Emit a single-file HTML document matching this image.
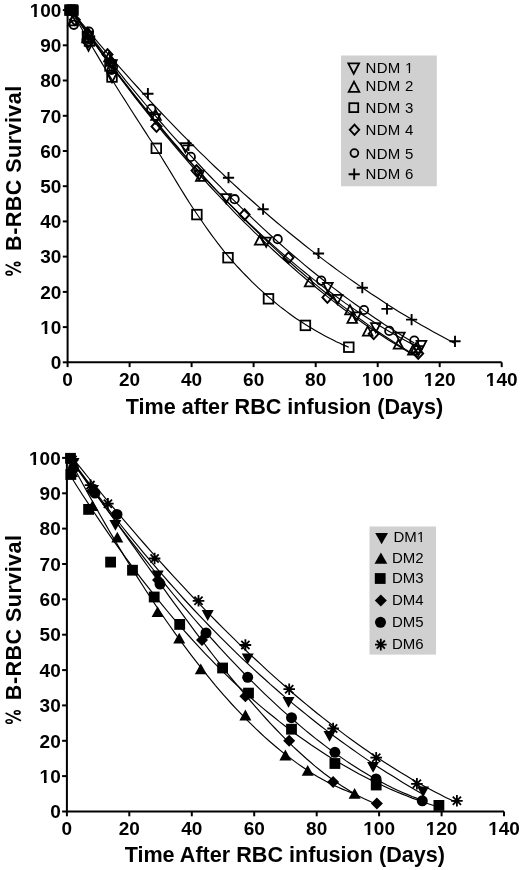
<!DOCTYPE html>
<html><head><meta charset="utf-8"><style>html,body{margin:0;padding:0;background:#fff;}svg{display:block;filter:grayscale(1);}text{font-family:"Liberation Sans",sans-serif;}</style></head>
<body>
<svg width="520" height="870" viewBox="0 0 520 870">
<rect width="520" height="870" fill="#fff"/>
<path d="M67.6,10.1V362.3H501.7" fill="none" stroke="#000" stroke-width="2"/>
<path d="M62.8,362.3H67.6" stroke="#000" stroke-width="2"/>
<text x="50.83" y="369.05" font-size="19.0" font-weight="bold" font-family="'Liberation Sans', sans-serif">0</text>
<path d="M62.8,327.1H67.6" stroke="#000" stroke-width="2"/>
<clipPath id="c1"><path clip-rule="evenodd" d="M-10,-10H530V880H-10ZM40.66,331.29H44.70V335.83H40.66ZM47.31,331.29H51.10V335.83H47.31Z"/></clipPath><g clip-path="url(#c1)"><text x="40.27" y="333.83" font-size="19.0" font-weight="bold" font-family="'Liberation Sans', sans-serif">10</text></g>
<path d="M62.8,291.9H67.6" stroke="#000" stroke-width="2"/>
<text x="40.27" y="298.61" font-size="19.0" font-weight="bold" font-family="'Liberation Sans', sans-serif">20</text>
<path d="M62.8,256.6H67.6" stroke="#000" stroke-width="2"/>
<text x="40.27" y="263.39" font-size="19.0" font-weight="bold" font-family="'Liberation Sans', sans-serif">30</text>
<path d="M62.8,221.4H67.6" stroke="#000" stroke-width="2"/>
<text x="40.27" y="228.17" font-size="19.0" font-weight="bold" font-family="'Liberation Sans', sans-serif">40</text>
<path d="M62.8,186.2H67.6" stroke="#000" stroke-width="2"/>
<text x="40.27" y="192.95" font-size="19.0" font-weight="bold" font-family="'Liberation Sans', sans-serif">50</text>
<path d="M62.8,151.0H67.6" stroke="#000" stroke-width="2"/>
<text x="40.27" y="157.73" font-size="19.0" font-weight="bold" font-family="'Liberation Sans', sans-serif">60</text>
<path d="M62.8,115.8H67.6" stroke="#000" stroke-width="2"/>
<text x="40.27" y="122.51" font-size="19.0" font-weight="bold" font-family="'Liberation Sans', sans-serif">70</text>
<path d="M62.8,80.5H67.6" stroke="#000" stroke-width="2"/>
<text x="40.27" y="87.29" font-size="19.0" font-weight="bold" font-family="'Liberation Sans', sans-serif">80</text>
<path d="M62.8,45.3H67.6" stroke="#000" stroke-width="2"/>
<text x="40.27" y="52.07" font-size="19.0" font-weight="bold" font-family="'Liberation Sans', sans-serif">90</text>
<path d="M62.8,10.1H67.6" stroke="#000" stroke-width="2"/>
<clipPath id="c2"><path clip-rule="evenodd" d="M-10,-10H530V880H-10ZM30.10,14.31H34.13V18.85H30.10ZM36.74,14.31H40.54V18.85H36.74Z"/></clipPath><g clip-path="url(#c2)"><text x="29.70" y="16.85" font-size="19.0" font-weight="bold" font-family="'Liberation Sans', sans-serif">100</text></g>
<path d="M67.6,362.3V367.1" stroke="#000" stroke-width="2"/>
<text x="62.32" y="385.60" font-size="19.0" font-weight="bold" font-family="'Liberation Sans', sans-serif">0</text>
<path d="M129.6,362.3V367.1" stroke="#000" stroke-width="2"/>
<text x="119.05" y="385.60" font-size="19.0" font-weight="bold" font-family="'Liberation Sans', sans-serif">20</text>
<path d="M191.6,362.3V367.1" stroke="#000" stroke-width="2"/>
<text x="181.06" y="385.60" font-size="19.0" font-weight="bold" font-family="'Liberation Sans', sans-serif">40</text>
<path d="M253.6,362.3V367.1" stroke="#000" stroke-width="2"/>
<text x="243.08" y="385.60" font-size="19.0" font-weight="bold" font-family="'Liberation Sans', sans-serif">60</text>
<path d="M315.7,362.3V367.1" stroke="#000" stroke-width="2"/>
<text x="305.09" y="385.60" font-size="19.0" font-weight="bold" font-family="'Liberation Sans', sans-serif">80</text>
<path d="M377.7,362.3V367.1" stroke="#000" stroke-width="2"/>
<clipPath id="c3"><path clip-rule="evenodd" d="M-10,-10H530V880H-10ZM362.22,383.06H366.26V387.60H362.22ZM368.86,383.06H372.66V387.60H368.86Z"/></clipPath><g clip-path="url(#c3)"><text x="361.82" y="385.60" font-size="19.0" font-weight="bold" font-family="'Liberation Sans', sans-serif">100</text></g>
<path d="M439.7,362.3V367.1" stroke="#000" stroke-width="2"/>
<clipPath id="c4"><path clip-rule="evenodd" d="M-10,-10H530V880H-10ZM424.23,383.06H428.27V387.60H424.23ZM430.88,383.06H434.67V387.60H430.88Z"/></clipPath><g clip-path="url(#c4)"><text x="423.84" y="385.60" font-size="19.0" font-weight="bold" font-family="'Liberation Sans', sans-serif">120</text></g>
<path d="M501.7,362.3V367.1" stroke="#000" stroke-width="2"/>
<clipPath id="c5"><path clip-rule="evenodd" d="M-10,-10H530V880H-10ZM486.25,383.06H490.28V387.60H486.25ZM492.89,383.06H496.69V387.60H492.89Z"/></clipPath><g clip-path="url(#c5)"><text x="485.85" y="385.60" font-size="19.0" font-weight="bold" font-family="'Liberation Sans', sans-serif">140</text></g>
<path d="M71.0,10.5 L76.1,17.7 L81.2,24.9 L86.2,31.9 L91.3,39.0 L96.4,45.9 L101.5,52.8 L106.6,59.6 L111.6,66.4 L116.7,73.1 L121.8,79.7 L126.9,86.2 L132.0,92.7 L137.0,99.1 L142.1,105.5 L147.2,111.8 L152.3,118.0 L157.4,124.1 L162.4,130.2 L167.5,136.2 L172.6,142.1 L177.7,148.0 L182.8,153.8 L187.8,159.5 L192.9,165.1 L198.0,170.7 L203.1,176.3 L208.2,181.7 L213.2,187.1 L218.3,192.4 L223.4,197.7 L228.5,202.8 L233.6,207.9 L238.6,213.0 L243.7,218.0 L248.8,222.9 L253.9,227.7 L258.9,232.5 L264.0,237.2 L269.1,241.8 L274.2,246.4 L279.3,250.9 L284.3,255.3 L289.4,259.6 L294.5,263.9 L299.6,268.1 L304.7,272.3 L309.7,276.4 L314.8,280.4 L319.9,284.3 L325.0,288.2 L330.1,292.0 L335.1,295.8 L340.2,299.4 L345.3,303.1 L350.4,306.6 L355.5,310.1 L360.5,313.5 L365.6,316.8 L370.7,320.0 L375.8,323.2 L380.9,326.4 L385.9,329.4 L391.0,332.4 L396.1,335.3 L401.2,338.2 L406.3,341.0 L411.3,343.7 L416.4,346.3 L421.5,348.9" fill="none" stroke="#000" stroke-width="1.15"/>
<path d="M71.0,9.9 L76.0,17.0 L80.9,24.1 L85.9,31.1 L90.8,38.1 L95.8,45.0 L100.7,51.8 L105.7,58.6 L110.6,65.3 L115.6,71.9 L120.6,78.5 L125.5,85.0 L130.5,91.4 L135.4,97.8 L140.4,104.1 L145.3,110.4 L150.3,116.6 L155.2,122.7 L160.2,128.8 L165.1,134.8 L170.1,140.7 L175.1,146.6 L180.0,152.4 L185.0,158.2 L189.9,163.9 L194.9,169.5 L199.8,175.1 L204.8,180.6 L209.7,186.0 L214.7,191.4 L219.7,196.7 L224.6,201.9 L229.6,207.1 L234.5,212.3 L239.5,217.3 L244.4,222.3 L249.4,227.2 L254.3,232.1 L259.3,236.9 L264.2,241.7 L269.2,246.3 L274.2,251.0 L279.1,255.5 L284.1,260.0 L289.0,264.4 L294.0,268.8 L298.9,273.1 L303.9,277.3 L308.8,281.5 L313.8,285.6 L318.8,289.7 L323.7,293.6 L328.7,297.6 L333.6,301.4 L338.6,305.2 L343.5,309.0 L348.5,312.6 L353.4,316.2 L358.4,319.8 L363.3,323.2 L368.3,326.7 L373.3,330.0 L378.2,333.3 L383.2,336.5 L388.1,339.7 L393.1,342.8 L398.0,345.8 L403.0,348.8 L407.9,351.7 L412.9,354.6" fill="none" stroke="#000" stroke-width="1.15"/>
<path d="M71.0,10.0 L74.1,15.5 L77.2,21.0 L80.4,26.4 L83.5,31.8 L86.6,37.2 L89.7,42.5 L92.8,47.8 L96.0,53.1 L99.1,58.4 L102.2,63.6 L105.3,68.8 L108.5,73.9 L111.6,79.0 L114.7,84.0 L117.8,89.0 L120.9,94.0 L124.1,98.9 L127.2,103.8 L130.3,108.7 L133.4,113.5 L136.5,118.4 L139.7,123.2 L142.8,128.1 L145.9,132.9 L149.0,137.7 L152.2,142.5 L155.3,147.4 L158.4,152.3 L161.5,157.3 L164.6,162.4 L167.8,167.5 L170.9,172.6 L174.0,177.8 L177.1,182.9 L180.2,188.0 L183.4,193.1 L186.5,198.1 L189.6,203.0 L192.7,207.8 L195.9,212.5 L199.0,217.0 L202.1,221.5 L205.2,226.0 L208.3,230.4 L211.5,234.8 L214.6,239.0 L217.7,243.2 L220.8,247.2 L223.9,251.1 L227.1,254.9 L230.2,258.5 L233.3,262.1 L236.4,265.6 L239.6,269.0 L242.7,272.3 L245.8,275.5 L248.9,278.7 L252.0,281.8 L255.2,284.9 L258.3,287.8 L261.4,290.7 L264.5,293.5 L267.6,296.3 L270.8,298.9 L273.9,301.5 L277.0,304.1 L280.1,306.6 L283.3,309.0 L286.4,311.4 L289.5,313.7 L292.6,316.0 L295.7,318.2 L298.9,320.3 L302.0,322.3 L305.1,324.3 L308.2,326.2 L311.3,328.1 L314.5,330.0 L317.6,331.8 L320.7,333.5 L323.8,335.3 L327.0,336.9 L330.1,338.6 L333.2,340.1 L336.3,341.7 L339.4,343.1 L342.6,344.6 L345.7,345.9 L348.8,347.2" fill="none" stroke="#000" stroke-width="1.15"/>
<path d="M71.0,9.9 L76.0,17.0 L81.1,24.0 L86.1,31.0 L91.1,37.9 L96.2,44.7 L101.2,51.5 L106.2,58.2 L111.3,64.9 L116.3,71.5 L121.3,78.1 L126.4,84.5 L131.4,91.0 L136.4,97.3 L141.4,103.6 L146.5,109.9 L151.5,116.0 L156.5,122.2 L161.6,128.2 L166.6,134.2 L171.6,140.2 L176.7,146.0 L181.7,151.8 L186.7,157.6 L191.8,163.3 L196.8,168.9 L201.8,174.5 L206.9,180.0 L211.9,185.5 L216.9,190.9 L222.0,196.2 L227.0,201.5 L232.0,206.7 L237.1,211.8 L242.1,216.9 L247.1,222.0 L252.1,226.9 L257.2,231.8 L262.2,236.7 L267.2,241.5 L272.3,246.2 L277.3,250.9 L282.3,255.5 L287.4,260.0 L292.4,264.5 L297.4,269.0 L302.5,273.3 L307.5,277.6 L312.5,281.9 L317.6,286.1 L322.6,290.2 L327.6,294.3 L332.7,298.3 L337.7,302.2 L342.7,306.1 L347.8,309.9 L352.8,313.7 L357.8,317.4 L362.8,321.0 L367.9,324.6 L372.9,328.1 L377.9,331.6 L383.0,335.0 L388.0,338.3 L393.0,341.6 L398.1,344.8 L403.1,348.0 L408.1,351.1 L413.2,354.1 L418.2,357.1" fill="none" stroke="#000" stroke-width="1.15"/>
<path d="M71.0,10.1 L76.0,16.7 L81.0,23.4 L85.9,29.9 L90.9,36.5 L95.9,42.9 L100.9,49.3 L105.8,55.7 L110.8,62.0 L115.8,68.2 L120.8,74.4 L125.7,80.6 L130.7,86.6 L135.7,92.7 L140.7,98.6 L145.6,104.5 L150.6,110.4 L155.6,116.2 L160.6,122.0 L165.5,127.7 L170.5,133.3 L175.5,138.9 L180.5,144.4 L185.4,149.9 L190.4,155.3 L195.4,160.7 L200.4,166.0 L205.3,171.3 L210.3,176.5 L215.3,181.6 L220.3,186.7 L225.2,191.8 L230.2,196.8 L235.2,201.7 L240.2,206.6 L245.1,211.4 L250.1,216.2 L255.1,220.9 L260.1,225.6 L265.0,230.2 L270.0,234.7 L275.0,239.2 L280.0,243.7 L284.9,248.1 L289.9,252.4 L294.9,256.7 L299.9,260.9 L304.8,265.1 L309.8,269.2 L314.8,273.2 L319.8,277.2 L324.7,281.2 L329.7,285.1 L334.7,288.9 L339.7,292.7 L344.6,296.5 L349.6,300.1 L354.6,303.8 L359.6,307.3 L364.5,310.9 L369.5,314.3 L374.5,317.7 L379.5,321.1 L384.4,324.4 L389.4,327.6 L394.4,330.8 L399.4,333.9 L404.3,337.0 L409.3,340.0 L414.3,343.0" fill="none" stroke="#000" stroke-width="1.15"/>
<path d="M71.0,10.1 L76.6,16.9 L82.1,23.6 L87.7,30.2 L93.3,36.8 L98.8,43.4 L104.4,49.8 L110.0,56.2 L115.5,62.6 L121.1,68.9 L126.7,75.2 L132.2,81.4 L137.8,87.5 L143.3,93.6 L148.9,99.6 L154.5,105.6 L160.0,111.5 L165.6,117.3 L171.2,123.1 L176.7,128.9 L182.3,134.6 L187.9,140.2 L193.4,145.7 L199.0,151.3 L204.6,156.7 L210.1,162.1 L215.7,167.5 L221.3,172.7 L226.8,178.0 L232.4,183.1 L238.0,188.2 L243.5,193.3 L249.1,198.3 L254.7,203.3 L260.2,208.1 L265.8,213.0 L271.3,217.7 L276.9,222.5 L282.5,227.1 L288.0,231.7 L293.6,236.3 L299.2,240.8 L304.7,245.2 L310.3,249.6 L315.9,253.9 L321.4,258.1 L327.0,262.4 L332.6,266.5 L338.1,270.6 L343.7,274.6 L349.3,278.6 L354.8,282.5 L360.4,286.4 L366.0,290.2 L371.5,294.0 L377.1,297.6 L382.7,301.3 L388.2,304.9 L393.8,308.4 L399.3,311.9 L404.9,315.3 L410.5,318.6 L416.0,321.9 L421.6,325.2 L427.2,328.3 L432.7,331.5 L438.3,334.5 L443.9,337.6 L449.4,340.5 L455.0,343.4" fill="none" stroke="#000" stroke-width="1.15"/>
<rect x="64.5" y="5.3" width="14.2" height="10.4" fill="#000"/>
<rect x="65.2" y="5.2" width="9.6" height="9.6" fill="none" stroke="#000" stroke-width="1.8" stroke-linejoin="miter"/>
<rect x="67.7" y="5.2" width="9.6" height="9.6" fill="none" stroke="#000" stroke-width="1.8" stroke-linejoin="miter"/>
<path d="M66.7,6.6L76.3,6.6L71.5,15.8Z" fill="none" stroke="#000" stroke-width="1.8" stroke-linejoin="miter"/>
<path d="M65.4,10.0H76.6M71.0,4.4V15.6" fill="none" stroke="#000" stroke-width="1.9"/>
<circle cx="73.8" cy="24.8" r="4.2" fill="none" stroke="#000" stroke-width="1.8" stroke-linejoin="miter"/>
<path d="M74.8,14.4L79.8,19.8L74.8,25.2L69.8,19.8Z" fill="none" stroke="#000" stroke-width="1.9" stroke-linejoin="miter"/>
<path d="M68.0,25.4L77.6,25.4L72.8,16.2Z" fill="none" stroke="#000" stroke-width="1.8" stroke-linejoin="miter"/>
<circle cx="86.5" cy="40.0" r="4.2" fill="none" stroke="#000" stroke-width="1.8" stroke-linejoin="miter"/>
<path d="M88.0,36.6L93.0,42.0L88.0,47.4L83.0,42.0Z" fill="none" stroke="#000" stroke-width="1.9" stroke-linejoin="miter"/>
<rect x="84.7" y="36.2" width="9.6" height="9.6" fill="none" stroke="#000" stroke-width="1.8" stroke-linejoin="miter"/>
<path d="M84.2,38.9L93.8,38.9L89.0,29.7Z" fill="none" stroke="#000" stroke-width="1.8" stroke-linejoin="miter"/>
<path d="M82.9,37.0H94.1M88.5,31.4V42.6" fill="none" stroke="#000" stroke-width="1.9"/>
<path d="M111.0,56.6L116.0,62.0L111.0,67.4L106.0,62.0Z" fill="none" stroke="#000" stroke-width="1.9" stroke-linejoin="miter"/>
<path d="M107.2,60.1L116.8,60.1L112.0,69.3Z" fill="none" stroke="#000" stroke-width="1.8" stroke-linejoin="miter"/>
<circle cx="113.0" cy="67.0" r="4.2" fill="none" stroke="#000" stroke-width="1.8" stroke-linejoin="miter"/>
<rect x="105.2" y="61.2" width="9.6" height="9.6" fill="none" stroke="#000" stroke-width="1.8" stroke-linejoin="miter"/>
<path d="M105.7,65.9L115.3,65.9L110.5,56.7Z" fill="none" stroke="#000" stroke-width="1.8" stroke-linejoin="miter"/>
<path d="M411.2,352.4L420.8,352.4L416.0,343.2Z" fill="none" stroke="#000" stroke-width="1.8" stroke-linejoin="miter"/>
<path d="M413.7,346.1L423.3,346.1L418.5,355.3Z" fill="none" stroke="#000" stroke-width="1.8" stroke-linejoin="miter"/>
<path d="M83.7,41.6L93.3,41.6L88.5,50.8Z" fill="none" stroke="#000" stroke-width="1.8" stroke-linejoin="miter"/>
<path d="M107.2,73.1L116.8,73.1L112.0,82.3Z" fill="none" stroke="#000" stroke-width="1.8" stroke-linejoin="miter"/>
<path d="M150.7,114.1L160.3,114.1L155.5,123.3Z" fill="none" stroke="#000" stroke-width="1.8" stroke-linejoin="miter"/>
<path d="M180.6,143.1L190.2,143.1L185.4,152.3Z" fill="none" stroke="#000" stroke-width="1.8" stroke-linejoin="miter"/>
<path d="M194.4,170.7L204.0,170.7L199.2,179.9Z" fill="none" stroke="#000" stroke-width="1.8" stroke-linejoin="miter"/>
<path d="M221.4,194.1L231.0,194.1L226.2,203.3Z" fill="none" stroke="#000" stroke-width="1.8" stroke-linejoin="miter"/>
<path d="M261.4,237.6L271.0,237.6L266.2,246.8Z" fill="none" stroke="#000" stroke-width="1.8" stroke-linejoin="miter"/>
<path d="M323.1,282.9L332.7,282.9L327.9,292.1Z" fill="none" stroke="#000" stroke-width="1.8" stroke-linejoin="miter"/>
<path d="M332.7,294.9L342.3,294.9L337.5,304.1Z" fill="none" stroke="#000" stroke-width="1.8" stroke-linejoin="miter"/>
<path d="M351.4,312.3L361.0,312.3L356.2,321.5Z" fill="none" stroke="#000" stroke-width="1.8" stroke-linejoin="miter"/>
<path d="M371.0,323.1L380.6,323.1L375.8,332.3Z" fill="none" stroke="#000" stroke-width="1.8" stroke-linejoin="miter"/>
<path d="M395.1,332.7L404.7,332.7L399.9,341.9Z" fill="none" stroke="#000" stroke-width="1.8" stroke-linejoin="miter"/>
<path d="M416.7,340.9L426.3,340.9L421.5,350.1Z" fill="none" stroke="#000" stroke-width="1.8" stroke-linejoin="miter"/>
<path d="M82.2,42.4L91.8,42.4L87.0,33.2Z" fill="none" stroke="#000" stroke-width="1.8" stroke-linejoin="miter"/>
<path d="M104.2,61.4L113.8,61.4L109.0,52.2Z" fill="none" stroke="#000" stroke-width="1.8" stroke-linejoin="miter"/>
<path d="M151.2,119.9L160.8,119.9L156.0,110.7Z" fill="none" stroke="#000" stroke-width="1.8" stroke-linejoin="miter"/>
<path d="M196.0,180.8L205.6,180.8L200.8,171.6Z" fill="none" stroke="#000" stroke-width="1.8" stroke-linejoin="miter"/>
<path d="M254.9,244.7L264.5,244.7L259.7,235.5Z" fill="none" stroke="#000" stroke-width="1.8" stroke-linejoin="miter"/>
<path d="M304.8,286.4L314.4,286.4L309.6,277.2Z" fill="none" stroke="#000" stroke-width="1.8" stroke-linejoin="miter"/>
<path d="M345.2,314.4L354.8,314.4L350.0,305.2Z" fill="none" stroke="#000" stroke-width="1.8" stroke-linejoin="miter"/>
<path d="M347.4,322.8L357.0,322.8L352.2,313.6Z" fill="none" stroke="#000" stroke-width="1.8" stroke-linejoin="miter"/>
<path d="M362.9,335.6L372.5,335.6L367.7,326.4Z" fill="none" stroke="#000" stroke-width="1.8" stroke-linejoin="miter"/>
<path d="M393.7,348.7L403.3,348.7L398.5,339.5Z" fill="none" stroke="#000" stroke-width="1.8" stroke-linejoin="miter"/>
<path d="M408.1,354.5L417.7,354.5L412.9,345.3Z" fill="none" stroke="#000" stroke-width="1.8" stroke-linejoin="miter"/>
<rect x="82.7" y="31.7" width="9.6" height="9.6" fill="none" stroke="#000" stroke-width="1.8" stroke-linejoin="miter"/>
<rect x="107.2" y="72.2" width="9.6" height="9.6" fill="none" stroke="#000" stroke-width="1.8" stroke-linejoin="miter"/>
<rect x="151.5" y="143.5" width="9.6" height="9.6" fill="none" stroke="#000" stroke-width="1.8" stroke-linejoin="miter"/>
<rect x="192.1" y="209.8" width="9.6" height="9.6" fill="none" stroke="#000" stroke-width="1.8" stroke-linejoin="miter"/>
<rect x="223.2" y="252.9" width="9.6" height="9.6" fill="none" stroke="#000" stroke-width="1.8" stroke-linejoin="miter"/>
<rect x="263.7" y="294.0" width="9.6" height="9.6" fill="none" stroke="#000" stroke-width="1.8" stroke-linejoin="miter"/>
<rect x="300.6" y="320.6" width="9.6" height="9.6" fill="none" stroke="#000" stroke-width="1.8" stroke-linejoin="miter"/>
<rect x="344.0" y="342.4" width="9.6" height="9.6" fill="none" stroke="#000" stroke-width="1.8" stroke-linejoin="miter"/>
<path d="M88.0,28.6L93.0,34.0L88.0,39.4L83.0,34.0Z" fill="none" stroke="#000" stroke-width="1.9" stroke-linejoin="miter"/>
<path d="M107.5,49.2L112.5,54.6L107.5,60.0L102.5,54.6Z" fill="none" stroke="#000" stroke-width="1.9" stroke-linejoin="miter"/>
<path d="M156.5,121.1L161.5,126.5L156.5,131.9L151.5,126.5Z" fill="none" stroke="#000" stroke-width="1.9" stroke-linejoin="miter"/>
<path d="M196.5,165.2L201.5,170.6L196.5,176.0L191.5,170.6Z" fill="none" stroke="#000" stroke-width="1.9" stroke-linejoin="miter"/>
<path d="M244.6,209.2L249.6,214.6L244.6,220.0L239.6,214.6Z" fill="none" stroke="#000" stroke-width="1.9" stroke-linejoin="miter"/>
<path d="M288.5,252.3L293.5,257.7L288.5,263.1L283.5,257.7Z" fill="none" stroke="#000" stroke-width="1.9" stroke-linejoin="miter"/>
<path d="M327.4,292.0L332.4,297.4L327.4,302.8L322.4,297.4Z" fill="none" stroke="#000" stroke-width="1.9" stroke-linejoin="miter"/>
<path d="M373.7,328.3L378.7,333.7L373.7,339.1L368.7,333.7Z" fill="none" stroke="#000" stroke-width="1.9" stroke-linejoin="miter"/>
<path d="M418.2,348.1L423.2,353.5L418.2,358.9L413.2,353.5Z" fill="none" stroke="#000" stroke-width="1.9" stroke-linejoin="miter"/>
<circle cx="89.0" cy="31.5" r="4.2" fill="none" stroke="#000" stroke-width="1.8" stroke-linejoin="miter"/>
<circle cx="111.5" cy="70.0" r="4.2" fill="none" stroke="#000" stroke-width="1.8" stroke-linejoin="miter"/>
<circle cx="151.2" cy="108.8" r="4.2" fill="none" stroke="#000" stroke-width="1.8" stroke-linejoin="miter"/>
<circle cx="190.8" cy="156.9" r="4.2" fill="none" stroke="#000" stroke-width="1.8" stroke-linejoin="miter"/>
<circle cx="234.6" cy="199.2" r="4.2" fill="none" stroke="#000" stroke-width="1.8" stroke-linejoin="miter"/>
<circle cx="277.7" cy="239.2" r="4.2" fill="none" stroke="#000" stroke-width="1.8" stroke-linejoin="miter"/>
<circle cx="321.2" cy="280.6" r="4.2" fill="none" stroke="#000" stroke-width="1.8" stroke-linejoin="miter"/>
<circle cx="364.0" cy="310.0" r="4.2" fill="none" stroke="#000" stroke-width="1.8" stroke-linejoin="miter"/>
<circle cx="389.3" cy="330.9" r="4.2" fill="none" stroke="#000" stroke-width="1.8" stroke-linejoin="miter"/>
<circle cx="414.3" cy="340.5" r="4.2" fill="none" stroke="#000" stroke-width="1.8" stroke-linejoin="miter"/>
<path d="M81.9,32.0H93.1M87.5,26.4V37.6" fill="none" stroke="#000" stroke-width="1.9"/>
<path d="M104.4,60.0H115.6M110.0,54.4V65.6" fill="none" stroke="#000" stroke-width="1.9"/>
<path d="M142.3,93.7H153.5M147.9,88.1V99.3" fill="none" stroke="#000" stroke-width="1.9"/>
<path d="M182.9,145.4H194.1M188.5,139.8V151.0" fill="none" stroke="#000" stroke-width="1.9"/>
<path d="M222.9,177.7H234.1M228.5,172.1V183.3" fill="none" stroke="#000" stroke-width="1.9"/>
<path d="M257.5,209.2H268.7M263.1,203.6V214.8" fill="none" stroke="#000" stroke-width="1.9"/>
<path d="M312.9,253.5H324.1M318.5,247.9V259.1" fill="none" stroke="#000" stroke-width="1.9"/>
<path d="M356.7,287.7H367.9M362.3,282.1V293.3" fill="none" stroke="#000" stroke-width="1.9"/>
<path d="M381.4,308.9H392.6M387.0,303.3V314.5" fill="none" stroke="#000" stroke-width="1.9"/>
<path d="M406.0,319.6H417.2M411.6,314.0V325.2" fill="none" stroke="#000" stroke-width="1.9"/>
<path d="M449.4,341.3H460.6M455.0,335.7V346.9" fill="none" stroke="#000" stroke-width="1.9"/>
<text x="284.5" y="413.8" text-anchor="middle" font-size="21.6" font-weight="bold" font-family="'Liberation Sans', sans-serif">Time after RBC infusion (Days)</text>
<text transform="translate(20.6,168.15) rotate(-90)" text-anchor="middle" font-size="21.6" letter-spacing="0.42" font-weight="bold" font-family="'Liberation Sans', sans-serif">B-RBC Survival</text><g fill="none" stroke="#000" stroke-width="1.7" transform="translate(0,0)"><ellipse cx="9.1" cy="273.2" rx="3.0" ry="1.75"/><ellipse cx="17.2" cy="264.1" rx="2.8" ry="1.65"/><path d="M5.6,264.6L21.0,272.5"/></g>
<rect x="341" y="55.5" width="95.8" height="130.8" fill="#d0d0d0"/>
<path d="M348.3,63.4L359.1,63.4L353.7,73.7Z" fill="none" stroke="#000" stroke-width="1.8" stroke-linejoin="miter"/>
<clipPath id="c6"><path clip-rule="evenodd" d="M-10,-10H530V880H-10ZM405.27,70.98H408.70V74.70H405.27ZM410.03,70.98H413.34V74.70H410.03Z"/></clipPath><g clip-path="url(#c6)"><text x="365.60" y="72.70" font-size="15" font-weight="normal" font-family="'Liberation Sans', sans-serif" letter-spacing="0.25">NDM 1</text></g>
<path d="M348.7,91.8L359.3,91.8L354.0,81.7Z" fill="none" stroke="#000" stroke-width="1.8" stroke-linejoin="miter"/>
<text x="365.60" y="90.70" font-size="15" font-weight="normal" font-family="'Liberation Sans', sans-serif" letter-spacing="0.25">NDM 2</text>
<rect x="349.3" y="103.2" width="8.9" height="8.9" fill="none" stroke="#000" stroke-width="1.8" stroke-linejoin="miter"/>
<text x="365.60" y="113.10" font-size="15" font-weight="normal" font-family="'Liberation Sans', sans-serif" letter-spacing="0.25">NDM 3</text>
<path d="M354.5,124.7L359.2,129.8L354.5,134.9L349.8,129.8Z" fill="none" stroke="#000" stroke-width="1.9" stroke-linejoin="miter"/>
<text x="365.60" y="135.40" font-size="15" font-weight="normal" font-family="'Liberation Sans', sans-serif" letter-spacing="0.25">NDM 4</text>
<circle cx="354.4" cy="153.1" r="3.9" fill="none" stroke="#000" stroke-width="1.8" stroke-linejoin="miter"/>
<text x="365.60" y="158.50" font-size="15" font-weight="normal" font-family="'Liberation Sans', sans-serif" letter-spacing="0.25">NDM 5</text>
<path d="M348.6,174.2H359.8M354.2,168.6V179.8" fill="none" stroke="#000" stroke-width="1.9"/>
<text x="365.60" y="178.50" font-size="15" font-weight="normal" font-family="'Liberation Sans', sans-serif" letter-spacing="0.25">NDM 6</text>
<path d="M66.9,457.9V811.5H504.0" fill="none" stroke="#000" stroke-width="2"/>
<path d="M62.1,811.5H66.9" stroke="#000" stroke-width="2"/>
<text x="50.13" y="818.25" font-size="19.0" font-weight="bold" font-family="'Liberation Sans', sans-serif">0</text>
<path d="M62.1,776.1H66.9" stroke="#000" stroke-width="2"/>
<clipPath id="c7"><path clip-rule="evenodd" d="M-10,-10H530V880H-10ZM39.96,780.35H44.00V784.89H39.96ZM46.61,780.35H50.40V784.89H46.61Z"/></clipPath><g clip-path="url(#c7)"><text x="39.57" y="782.89" font-size="19.0" font-weight="bold" font-family="'Liberation Sans', sans-serif">10</text></g>
<path d="M62.1,740.8H66.9" stroke="#000" stroke-width="2"/>
<text x="39.57" y="747.53" font-size="19.0" font-weight="bold" font-family="'Liberation Sans', sans-serif">20</text>
<path d="M62.1,705.4H66.9" stroke="#000" stroke-width="2"/>
<text x="39.57" y="712.17" font-size="19.0" font-weight="bold" font-family="'Liberation Sans', sans-serif">30</text>
<path d="M62.1,670.1H66.9" stroke="#000" stroke-width="2"/>
<text x="39.57" y="676.81" font-size="19.0" font-weight="bold" font-family="'Liberation Sans', sans-serif">40</text>
<path d="M62.1,634.7H66.9" stroke="#000" stroke-width="2"/>
<text x="39.57" y="641.45" font-size="19.0" font-weight="bold" font-family="'Liberation Sans', sans-serif">50</text>
<path d="M62.1,599.3H66.9" stroke="#000" stroke-width="2"/>
<text x="39.57" y="606.09" font-size="19.0" font-weight="bold" font-family="'Liberation Sans', sans-serif">60</text>
<path d="M62.1,564.0H66.9" stroke="#000" stroke-width="2"/>
<text x="39.57" y="570.73" font-size="19.0" font-weight="bold" font-family="'Liberation Sans', sans-serif">70</text>
<path d="M62.1,528.6H66.9" stroke="#000" stroke-width="2"/>
<text x="39.57" y="535.37" font-size="19.0" font-weight="bold" font-family="'Liberation Sans', sans-serif">80</text>
<path d="M62.1,493.3H66.9" stroke="#000" stroke-width="2"/>
<text x="39.57" y="500.01" font-size="19.0" font-weight="bold" font-family="'Liberation Sans', sans-serif">90</text>
<path d="M62.1,457.9H66.9" stroke="#000" stroke-width="2"/>
<clipPath id="c8"><path clip-rule="evenodd" d="M-10,-10H530V880H-10ZM29.40,462.11H33.43V466.65H29.40ZM36.04,462.11H39.84V466.65H36.04Z"/></clipPath><g clip-path="url(#c8)"><text x="29.00" y="464.65" font-size="19.0" font-weight="bold" font-family="'Liberation Sans', sans-serif">100</text></g>
<path d="M66.9,811.5V816.3" stroke="#000" stroke-width="2"/>
<text x="61.62" y="834.80" font-size="19.0" font-weight="bold" font-family="'Liberation Sans', sans-serif">0</text>
<path d="M129.3,811.5V816.3" stroke="#000" stroke-width="2"/>
<text x="118.78" y="834.80" font-size="19.0" font-weight="bold" font-family="'Liberation Sans', sans-serif">20</text>
<path d="M191.8,811.5V816.3" stroke="#000" stroke-width="2"/>
<text x="181.22" y="834.80" font-size="19.0" font-weight="bold" font-family="'Liberation Sans', sans-serif">40</text>
<path d="M254.2,811.5V816.3" stroke="#000" stroke-width="2"/>
<text x="243.66" y="834.80" font-size="19.0" font-weight="bold" font-family="'Liberation Sans', sans-serif">60</text>
<path d="M316.7,811.5V816.3" stroke="#000" stroke-width="2"/>
<text x="306.10" y="834.80" font-size="19.0" font-weight="bold" font-family="'Liberation Sans', sans-serif">80</text>
<path d="M379.1,811.5V816.3" stroke="#000" stroke-width="2"/>
<clipPath id="c9"><path clip-rule="evenodd" d="M-10,-10H530V880H-10ZM363.66,832.26H367.70V836.80H363.66ZM370.31,832.26H374.10V836.80H370.31Z"/></clipPath><g clip-path="url(#c9)"><text x="363.26" y="834.80" font-size="19.0" font-weight="bold" font-family="'Liberation Sans', sans-serif">100</text></g>
<path d="M441.6,811.5V816.3" stroke="#000" stroke-width="2"/>
<clipPath id="c10"><path clip-rule="evenodd" d="M-10,-10H530V880H-10ZM426.10,832.26H430.14V836.80H426.10ZM432.75,832.26H436.54V836.80H432.75Z"/></clipPath><g clip-path="url(#c10)"><text x="425.71" y="834.80" font-size="19.0" font-weight="bold" font-family="'Liberation Sans', sans-serif">120</text></g>
<path d="M504.0,811.5V816.3" stroke="#000" stroke-width="2"/>
<clipPath id="c11"><path clip-rule="evenodd" d="M-10,-10H530V880H-10ZM488.55,832.26H492.58V836.80H488.55ZM495.19,832.26H498.99V836.80H495.19Z"/></clipPath><g clip-path="url(#c11)"><text x="488.15" y="834.80" font-size="19.0" font-weight="bold" font-family="'Liberation Sans', sans-serif">140</text></g>
<path d="M72.0,460.2 L77.1,467.3 L82.2,474.2 L87.3,481.1 L92.4,488.0 L97.4,494.7 L102.5,501.4 L107.6,508.0 L112.7,514.6 L117.8,521.0 L122.9,527.5 L128.0,533.8 L133.1,540.1 L138.1,546.2 L143.2,552.4 L148.3,558.4 L153.4,564.4 L158.5,570.4 L163.6,576.2 L168.7,582.0 L173.8,587.7 L178.9,593.4 L183.9,599.0 L189.0,604.5 L194.1,610.0 L199.2,615.4 L204.3,620.7 L209.4,626.0 L214.5,631.2 L219.6,636.3 L224.7,641.4 L229.7,646.4 L234.8,651.4 L239.9,656.3 L245.0,661.1 L250.1,665.9 L255.2,670.6 L260.3,675.2 L265.4,679.8 L270.4,684.4 L275.5,688.8 L280.6,693.3 L285.7,697.6 L290.8,701.9 L295.9,706.1 L301.0,710.3 L306.1,714.4 L311.2,718.5 L316.2,722.5 L321.3,726.5 L326.4,730.4 L331.5,734.2 L336.6,738.0 L341.7,741.7 L346.8,745.4 L351.9,749.0 L357.0,752.6 L362.0,756.1 L367.1,759.6 L372.2,763.0 L377.3,766.4 L382.4,769.7 L387.5,772.9 L392.6,776.1 L397.7,779.3 L402.7,782.4 L407.8,785.4 L412.9,788.4 L418.0,791.4 L423.1,794.3" fill="none" stroke="#000" stroke-width="1.15"/>
<path d="M72.0,464.0 L76.1,471.7 L80.2,479.2 L84.3,486.7 L88.4,494.1 L92.5,501.5 L96.6,508.8 L100.7,516.0 L104.8,523.1 L108.9,530.2 L113.0,537.1 L117.1,544.0 L121.1,550.9 L125.2,557.6 L129.3,564.3 L133.4,570.9 L137.5,577.4 L141.6,583.8 L145.7,590.2 L149.8,596.4 L153.9,602.6 L158.0,608.7 L162.1,614.7 L166.2,620.7 L170.3,626.5 L174.4,632.3 L178.5,638.0 L182.6,643.6 L186.7,649.1 L190.8,654.6 L194.9,659.9 L199.0,665.2 L203.1,670.3 L207.2,675.4 L211.3,680.4 L215.3,685.3 L219.4,690.1 L223.5,694.8 L227.6,699.4 L231.7,704.0 L235.8,708.4 L239.9,712.7 L244.0,717.0 L248.1,721.1 L252.2,725.2 L256.3,729.2 L260.4,733.0 L264.5,736.8 L268.6,740.5 L272.7,744.0 L276.8,747.5 L280.9,750.9 L285.0,754.2 L289.1,757.3 L293.2,760.4 L297.3,763.4 L301.4,766.2 L305.5,769.0 L309.5,771.7 L313.6,774.2 L317.7,776.7 L321.8,779.0 L325.9,781.3 L330.0,783.4 L334.1,785.4 L338.2,787.3 L342.3,789.1 L346.4,790.8 L350.5,792.4 L354.6,793.9" fill="none" stroke="#000" stroke-width="1.15"/>
<path d="M72.0,478.2 L77.3,486.7 L82.6,495.0 L88.0,503.1 L93.3,511.2 L98.6,519.1 L103.9,526.9 L109.2,534.6 L114.5,542.2 L119.9,549.6 L125.2,557.0 L130.5,564.2 L135.8,571.3 L141.1,578.3 L146.4,585.1 L151.8,591.9 L157.1,598.5 L162.4,605.1 L167.7,611.5 L173.0,617.8 L178.3,624.0 L183.7,630.1 L189.0,636.0 L194.3,641.9 L199.6,647.6 L204.9,653.3 L210.3,658.8 L215.6,664.3 L220.9,669.6 L226.2,674.8 L231.5,680.0 L236.8,685.0 L242.2,689.9 L247.5,694.7 L252.8,699.5 L258.1,704.1 L263.4,708.6 L268.7,713.0 L274.1,717.3 L279.4,721.6 L284.7,725.7 L290.0,729.7 L295.3,733.7 L300.6,737.5 L306.0,741.3 L311.3,745.0 L316.6,748.5 L321.9,752.0 L327.2,755.4 L332.6,758.7 L337.9,761.9 L343.2,765.1 L348.5,768.1 L353.8,771.0 L359.1,773.9 L364.5,776.7 L369.8,779.4 L375.1,782.0 L380.4,784.5 L385.7,787.0 L391.0,789.4 L396.4,791.7 L401.7,793.9 L407.0,796.0 L412.3,798.1 L417.6,800.0 L422.9,801.9 L428.3,803.8 L433.6,805.5 L438.9,807.2" fill="none" stroke="#000" stroke-width="1.15"/>
<path d="M72.0,461.1 L76.4,467.1 L80.8,473.1 L85.3,479.1 L89.7,485.2 L94.1,491.3 L98.5,497.4 L102.9,503.6 L107.4,509.7 L111.8,515.9 L116.2,522.1 L120.6,528.3 L125.0,534.5 L129.4,540.7 L133.9,546.9 L138.3,553.2 L142.7,559.4 L147.1,565.5 L151.5,571.7 L156.0,577.9 L160.4,584.0 L164.8,590.2 L169.2,596.3 L173.6,602.4 L178.1,608.4 L182.5,614.4 L186.9,620.4 L191.3,626.4 L195.7,632.3 L200.1,638.2 L204.6,644.0 L209.0,649.8 L213.4,655.5 L217.8,661.1 L222.2,666.7 L226.7,672.3 L231.1,677.8 L235.5,683.2 L239.9,688.5 L244.3,693.8 L248.8,699.0 L253.2,704.1 L257.6,709.2 L262.0,714.1 L266.4,719.0 L270.8,723.8 L275.3,728.5 L279.7,733.1 L284.1,737.6 L288.5,742.0 L292.9,746.3 L297.4,750.5 L301.8,754.5 L306.2,758.5 L310.6,762.3 L315.0,766.1 L319.5,769.7 L323.9,773.2 L328.3,776.5 L332.7,779.7 L337.1,782.8 L341.5,785.8 L346.0,788.6 L350.4,791.3 L354.8,793.8 L359.2,796.2 L363.6,798.4 L368.1,800.5 L372.5,802.5 L376.9,804.2" fill="none" stroke="#000" stroke-width="1.15"/>
<path d="M72.0,461.9 L77.1,468.9 L82.2,475.9 L87.2,482.9 L92.3,489.8 L97.4,496.7 L102.5,503.5 L107.5,510.3 L112.6,517.1 L117.7,523.8 L122.8,530.5 L127.8,537.1 L132.9,543.7 L138.0,550.2 L143.1,556.7 L148.2,563.2 L153.2,569.5 L158.3,575.9 L163.4,582.1 L168.5,588.3 L173.5,594.5 L178.6,600.6 L183.7,606.6 L188.8,612.6 L193.8,618.5 L198.9,624.4 L204.0,630.2 L209.1,635.9 L214.2,641.5 L219.2,647.1 L224.3,652.6 L229.4,658.1 L234.5,663.4 L239.5,668.7 L244.6,674.0 L249.7,679.1 L254.8,684.2 L259.8,689.2 L264.9,694.1 L270.0,698.9 L275.1,703.7 L280.1,708.3 L285.2,712.9 L290.3,717.4 L295.4,721.8 L300.5,726.1 L305.5,730.4 L310.6,734.5 L315.7,738.6 L320.8,742.5 L325.8,746.4 L330.9,750.2 L336.0,753.8 L341.1,757.4 L346.1,760.9 L351.2,764.3 L356.3,767.5 L361.4,770.7 L366.5,773.8 L371.5,776.7 L376.6,779.6 L381.7,782.3 L386.8,785.0 L391.8,787.5 L396.9,789.9 L402.0,792.2 L407.1,794.4 L412.1,796.5 L417.2,798.4 L422.3,800.3" fill="none" stroke="#000" stroke-width="1.15"/>
<path d="M72.0,457.3 L77.6,464.2 L83.2,471.1 L88.7,478.0 L94.3,484.8 L99.9,491.5 L105.5,498.3 L111.0,504.9 L116.6,511.6 L122.2,518.1 L127.8,524.7 L133.4,531.1 L138.9,537.6 L144.5,544.0 L150.1,550.3 L155.7,556.6 L161.3,562.8 L166.8,569.0 L172.4,575.1 L178.0,581.1 L183.6,587.1 L189.1,593.1 L194.7,599.0 L200.3,604.8 L205.9,610.6 L211.5,616.3 L217.0,622.0 L222.6,627.6 L228.2,633.2 L233.8,638.7 L239.3,644.1 L244.9,649.5 L250.5,654.8 L256.1,660.0 L261.7,665.2 L267.2,670.3 L272.8,675.4 L278.4,680.4 L284.0,685.3 L289.6,690.2 L295.1,695.0 L300.7,699.7 L306.3,704.4 L311.9,709.0 L317.4,713.5 L323.0,717.9 L328.6,722.3 L334.2,726.6 L339.8,730.9 L345.3,735.1 L350.9,739.2 L356.5,743.2 L362.1,747.2 L367.6,751.0 L373.2,754.9 L378.8,758.6 L384.4,762.2 L390.0,765.8 L395.5,769.3 L401.1,772.8 L406.7,776.1 L412.3,779.4 L417.9,782.6 L423.4,785.7 L429.0,788.7 L434.6,791.7 L440.2,794.6 L445.7,797.4 L451.3,800.1 L456.9,802.7" fill="none" stroke="#000" stroke-width="1.15"/>
<rect x="105.2" y="556.7" width="10.8" height="10.8" fill="#000"/>
<rect x="65.1" y="452.9" width="10.8" height="10.8" fill="#000"/>
<path d="M67.5,458.0L79.5,458.0L73.5,468.8Z" fill="#000"/>
<circle cx="73.5" cy="468.0" r="5.5" fill="#000"/>
<path d="M73.0,464.0L79.0,470.0L73.0,476.0L67.0,470.0Z" fill="#000"/>
<rect x="65.4" y="469.1" width="10.8" height="10.8" fill="#000"/>
<path d="M66.0,477.0L78.0,477.0L72.0,466.2Z" fill="#000"/>
<path d="M66.7,460.0H78.3M72.5,454.2V465.8M68.4,455.9L76.6,464.1M68.4,464.1L76.6,455.9" fill="none" stroke="#000" stroke-width="1.8"/>
<path d="M87.0,485.0L99.0,485.0L93.0,495.8Z" fill="#000"/>
<path d="M109.4,520.0L121.4,520.0L115.4,530.8Z" fill="#000"/>
<path d="M151.7,570.4L163.7,570.4L157.7,581.2Z" fill="#000"/>
<path d="M201.7,610.1L213.7,610.1L207.7,620.9Z" fill="#000"/>
<path d="M241.7,653.5L253.7,653.5L247.7,664.3Z" fill="#000"/>
<path d="M282.5,697.0L294.5,697.0L288.5,707.8Z" fill="#000"/>
<path d="M323.5,731.0L335.5,731.0L329.5,741.8Z" fill="#000"/>
<path d="M367.1,761.9L379.1,761.9L373.1,772.7Z" fill="#000"/>
<path d="M417.1,786.5L429.1,786.5L423.1,797.3Z" fill="#000"/>
<path d="M86.5,511.0L98.5,511.0L92.5,500.2Z" fill="#000"/>
<path d="M111.3,542.5L123.3,542.5L117.3,531.7Z" fill="#000"/>
<path d="M151.6,617.0L163.6,617.0L157.6,606.2Z" fill="#000"/>
<path d="M173.2,643.5L185.2,643.5L179.2,632.7Z" fill="#000"/>
<path d="M194.8,674.2L206.8,674.2L200.8,663.4Z" fill="#000"/>
<path d="M239.4,720.4L251.4,720.4L245.4,709.6Z" fill="#000"/>
<path d="M279.4,760.4L291.4,760.4L285.4,749.6Z" fill="#000"/>
<path d="M301.7,775.8L313.7,775.8L307.7,765.0Z" fill="#000"/>
<path d="M348.6,798.8L360.6,798.8L354.6,788.0Z" fill="#000"/>
<rect x="83.2" y="504.0" width="10.8" height="10.8" fill="#000"/>
<rect x="127.1" y="564.8" width="10.8" height="10.8" fill="#000"/>
<rect x="148.8" y="591.6" width="10.8" height="10.8" fill="#000"/>
<rect x="174.3" y="619.0" width="10.8" height="10.8" fill="#000"/>
<rect x="217.2" y="662.6" width="10.8" height="10.8" fill="#000"/>
<rect x="243.1" y="687.7" width="10.8" height="10.8" fill="#000"/>
<rect x="286.1" y="723.8" width="10.8" height="10.8" fill="#000"/>
<rect x="329.5" y="758.1" width="10.8" height="10.8" fill="#000"/>
<rect x="370.8" y="779.6" width="10.8" height="10.8" fill="#000"/>
<rect x="433.5" y="800.0" width="10.8" height="10.8" fill="#000"/>
<path d="M92.0,485.0L98.0,491.0L92.0,497.0L86.0,491.0Z" fill="#000"/>
<path d="M158.0,574.0L164.0,580.0L158.0,586.0L152.0,580.0Z" fill="#000"/>
<path d="M202.0,634.0L208.0,640.0L202.0,646.0L196.0,640.0Z" fill="#000"/>
<path d="M245.4,690.2L251.4,696.2L245.4,702.2L239.4,696.2Z" fill="#000"/>
<path d="M289.2,734.8L295.2,740.8L289.2,746.8L283.2,740.8Z" fill="#000"/>
<path d="M333.1,776.0L339.1,782.0L333.1,788.0L327.1,782.0Z" fill="#000"/>
<path d="M376.9,797.5L382.9,803.5L376.9,809.5L370.9,803.5Z" fill="#000"/>
<circle cx="95.0" cy="493.0" r="5.5" fill="#000"/>
<circle cx="117.0" cy="514.4" r="5.5" fill="#000"/>
<circle cx="160.0" cy="584.0" r="5.5" fill="#000"/>
<circle cx="206.0" cy="633.0" r="5.5" fill="#000"/>
<circle cx="247.7" cy="677.3" r="5.5" fill="#000"/>
<circle cx="291.5" cy="717.7" r="5.5" fill="#000"/>
<circle cx="334.9" cy="752.3" r="5.5" fill="#000"/>
<circle cx="376.0" cy="779.0" r="5.5" fill="#000"/>
<circle cx="422.3" cy="800.8" r="5.5" fill="#000"/>
<path d="M84.7,485.1H96.3M90.5,479.3V490.9M86.4,481.0L94.6,489.2M86.4,489.2L94.6,481.0" fill="none" stroke="#000" stroke-width="1.8"/>
<path d="M102.1,503.7H113.7M107.9,497.9V509.5M103.8,499.6L112.0,507.8M103.8,507.8L112.0,499.6" fill="none" stroke="#000" stroke-width="1.8"/>
<path d="M148.8,558.5H160.4M154.6,552.7V564.3M150.5,554.4L158.7,562.6M150.5,562.6L158.7,554.4" fill="none" stroke="#000" stroke-width="1.8"/>
<path d="M192.7,600.8H204.3M198.5,595.0V606.6M194.4,596.7L202.6,604.9M194.4,604.9L202.6,596.7" fill="none" stroke="#000" stroke-width="1.8"/>
<path d="M239.6,645.0H251.2M245.4,639.2V650.8M241.3,640.9L249.5,649.1M241.3,649.1L249.5,640.9" fill="none" stroke="#000" stroke-width="1.8"/>
<path d="M283.4,689.2H295.0M289.2,683.4V695.0M285.1,685.1L293.3,693.3M285.1,693.3L293.3,685.1" fill="none" stroke="#000" stroke-width="1.8"/>
<path d="M327.3,728.5H338.9M333.1,722.7V734.3M329.0,724.4L337.2,732.6M329.0,732.6L337.2,724.4" fill="none" stroke="#000" stroke-width="1.8"/>
<path d="M370.4,757.7H382.0M376.2,751.9V763.5M372.1,753.6L380.3,761.8M372.1,761.8L380.3,753.6" fill="none" stroke="#000" stroke-width="1.8"/>
<path d="M411.1,783.8H422.7M416.9,778.0V789.6M412.8,779.7L421.0,787.9M412.8,787.9L421.0,779.7" fill="none" stroke="#000" stroke-width="1.8"/>
<path d="M451.1,800.8H462.7M456.9,795.0V806.6M452.8,796.7L461.0,804.9M452.8,804.9L461.0,796.7" fill="none" stroke="#000" stroke-width="1.8"/>
<text x="284.8" y="861.9" text-anchor="middle" font-size="21.6" font-weight="bold" font-family="'Liberation Sans', sans-serif">Time After RBC infusion (Days)</text>
<text transform="translate(20.6,617.40) rotate(-90)" text-anchor="middle" font-size="21.6" letter-spacing="0.42" font-weight="bold" font-family="'Liberation Sans', sans-serif">B-RBC Survival</text><g fill="none" stroke="#000" stroke-width="1.7" transform="translate(0,448.3)"><ellipse cx="9.1" cy="273.2" rx="3.0" ry="1.75"/><ellipse cx="17.2" cy="264.1" rx="2.8" ry="1.65"/><path d="M5.6,264.6L21.0,272.5"/></g>
<rect x="369.5" y="526.5" width="66.5" height="128.1" fill="#d0d0d0"/>
<path d="M375.2,532.9L388.0,532.9L381.6,544.3Z" fill="#000"/>
<clipPath id="c12"><path clip-rule="evenodd" d="M-10,-10H530V880H-10ZM417.17,540.08H420.60V543.80H417.17ZM421.93,540.08H425.24V543.80H421.93Z"/></clipPath><g clip-path="url(#c12)"><text x="393.50" y="541.80" font-size="15" font-weight="normal" font-family="'Liberation Sans', sans-serif">DM1</text></g>
<path d="M374.5,563.8L387.3,563.8L380.9,552.4Z" fill="#000"/>
<text x="391.90" y="562.80" font-size="15" font-weight="normal" font-family="'Liberation Sans', sans-serif">DM2</text>
<rect x="374.8" y="573.1" width="10.8" height="10.8" fill="#000"/>
<text x="391.90" y="583.40" font-size="15" font-weight="normal" font-family="'Liberation Sans', sans-serif">DM3</text>
<path d="M380.8,594.6L386.8,600.6L380.8,606.6L374.8,600.6Z" fill="#000"/>
<text x="391.90" y="605.40" font-size="15" font-weight="normal" font-family="'Liberation Sans', sans-serif">DM4</text>
<circle cx="380.5" cy="622.3" r="5.5" fill="#000"/>
<text x="391.90" y="626.60" font-size="15" font-weight="normal" font-family="'Liberation Sans', sans-serif">DM5</text>
<path d="M375.0,644.6H386.6M380.8,638.8V650.4M376.7,640.5L384.9,648.7M376.7,648.7L384.9,640.5" fill="none" stroke="#000" stroke-width="1.8"/>
<text x="391.90" y="649.20" font-size="15" font-weight="normal" font-family="'Liberation Sans', sans-serif">DM6</text>
</svg>
</body></html>
